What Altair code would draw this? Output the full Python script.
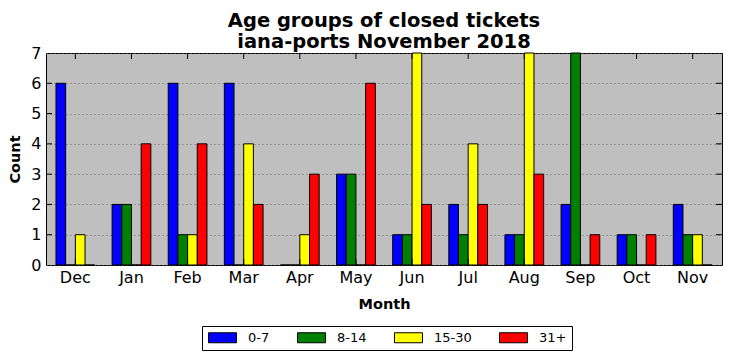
import altair as alt
import pandas as pd

months = ["Dec", "Jan", "Feb", "Mar", "Apr", "May", "Jun", "Jul", "Aug", "Sep", "Oct", "Nov"]
groups = ["0-7", "8-14", "15-30", "31+"]
age_0_7 = [6, 2, 6, 6, 0, 3, 1, 2, 1, 2, 1, 2]
age_8_14 = [0, 2, 1, 0, 0, 3, 1, 1, 1, 7, 1, 1]
age_15_30 = [1, 0, 1, 4, 1, 0, 7, 4, 7, 0, 0, 1]
age_31p = [0, 4, 4, 2, 3, 6, 2, 2, 3, 1, 1, 0]
colors = ["#0000ff", "#008000", "#ffff00", "#ff0000"]
y_ticks = [0, 1, 2, 3, 4, 5, 6, 7]

series = [age_0_7, age_8_14, age_15_30, age_31p]
rows = []
for g, vals in zip(groups, series):
    for m, v in zip(months, vals):
        rows.append({"Month": m, "Group": g, "Count": v})
df = pd.DataFrame(rows)
month_df = pd.DataFrame({"Month": months})
ytick_df = pd.DataFrame({"Count": y_ticks[1:-1]})

FONT = "DejaVu Sans"
W, H = 676, 212

xscale = alt.Scale(domain=months, paddingInner=0.31, paddingOuter=0.178)
yscale = alt.Scale(domain=[0, 7], nice=False)

xaxis = alt.Axis(title="Month", labelAngle=0, ticks=False, labelFontSize=16,
                 labelPadding=4, titleFontSize=14.5, titleFontWeight="bold",
                 titlePadding=12, domain=False, grid=False,
                 labelColor="black", titleColor="black", labelFont=FONT, titleFont=FONT)
yaxis = alt.Axis(title="Count", values=y_ticks, ticks=False, labelFontSize=16,
                 labelPadding=5, labelOverlap=False, labelFlush=False,
                 titleFontSize=14.5, titleFontWeight="bold",
                 titlePadding=8, domain=False, grid=True, gridColor="#666666",
                 gridDash=[1, 3], gridWidth=1,
                 labelColor="black", titleColor="black", labelFont=FONT, titleFont=FONT)

X = alt.X("Month:N", sort=months, scale=xscale, axis=xaxis)
Y = alt.Y("Count:Q", scale=yscale, axis=yaxis)

bars = alt.Chart(df).mark_bar(stroke="black", strokeWidth=1).encode(
    x=X,
    xOffset=alt.XOffset("Group:N", sort=groups, scale=alt.Scale(paddingInner=0, paddingOuter=0)),
    y=Y,
    color=alt.Color("Group:N", sort=groups,
                    scale=alt.Scale(domain=groups, range=colors),
                    legend=alt.Legend(title=None, orient="none", legendX=156, legendY=273,
                                      direction="horizontal",
                                      symbolType="M-1,-1H4.6V1H-1Z", symbolSize=100,
                                      symbolStrokeColor="black", symbolStrokeWidth=1,
                                      labelFontSize=13, labelFont=FONT, labelColor="black",
                                      labelOffset=28, columnPadding=25, padding=5,
                                      strokeColor="black", fillColor="white",
                                      cornerRadius=0)),
)

top_ticks = alt.Chart(month_df).mark_rule(color="black", strokeWidth=1).encode(
    x=X, y=alt.value(0), y2=alt.value(6))
bot_ticks = alt.Chart(month_df).mark_rule(color="black", strokeWidth=1).encode(
    x=X, y=alt.value(H), y2=alt.value(H - 6))
left_ticks = alt.Chart(ytick_df).mark_rule(color="black", strokeWidth=1).encode(
    y=Y, x=alt.value(0), x2=alt.value(6))
right_ticks = alt.Chart(ytick_df).mark_rule(color="black", strokeWidth=1).encode(
    y=Y, x=alt.value(W), x2=alt.value(W - 6))

chart = alt.layer(bars, top_ticks, bot_ticks, left_ticks, right_ticks).properties(
    width=W, height=H,
    background="white",
    title=alt.TitleParams(text=["Age groups of closed tickets", "iana-ports November 2018"],
                          fontSize=19.5, fontWeight="bold", font=FONT, color="black",
                          anchor="middle", offset=1, dy=8, lineHeight=21),
    autosize=alt.AutoSizeParams(type="none"),
    padding={"left": 38, "top": 45, "right": 2, "bottom": 88},
).configure_view(
    fill="#bfbfbf", stroke="black", strokeWidth=1
)

chart.save("out.html", embed_options={"renderer": "svg", "actions": False})
